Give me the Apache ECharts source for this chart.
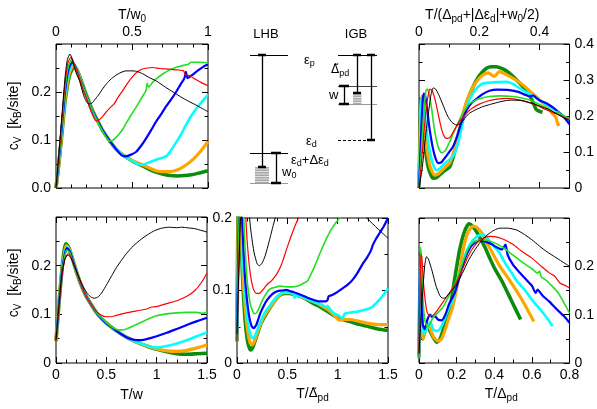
<!DOCTYPE html>
<html>
<head>
<meta charset="utf-8">
<script src="https://cdn.jsdelivr.net/npm/echarts@6/dist/echarts.min.js"></script>
<style>
html, body { margin: 0; padding: 0; background: #fff; }
#chart { width: 597px; height: 409px; }
</style>
</head>
<body>
<div id="chart"></div>
<script>
// curve order everywhere: black, red, green, blue, cyan, orange, dark green
const curveColors = ['#000000', '#ff0000', '#22e022', '#0000ff', '#00ffff', '#ffa500', '#0c8c0c']
const curveWidths = [1, 1.2, 1.6, 2.2, 2.6, 3.2, 3.6]

// top left: c_V vs T/w0
const tlBlack = [[0,0],[0.02,0.075],[0.04,0.155],[0.06,0.232],[0.075,0.268],[0.092,0.279],[0.105,0.27],[0.12,0.252],[0.137,0.236],[0.154,0.224],[0.17,0.206],[0.186,0.189],[0.2,0.18],[0.21,0.176],[0.22,0.175],[0.24,0.178],[0.26,0.186],[0.285,0.196],[0.31,0.208],[0.34,0.22],[0.373,0.23],[0.41,0.238],[0.46,0.244],[0.5,0.244],[0.53,0.243],[0.57,0.238],[0.614,0.23],[0.66,0.223],[0.72,0.21],[0.77,0.2],[0.82,0.19],[0.87,0.181],[0.92,0.173],[0.96,0.166],[1,0.159]]
const tlRed = [[0,0],[0.02,0.07],[0.04,0.147],[0.06,0.22],[0.078,0.26],[0.098,0.272],[0.112,0.265],[0.13,0.25],[0.154,0.228],[0.175,0.208],[0.197,0.19],[0.22,0.168],[0.241,0.152],[0.263,0.14],[0.28,0.141],[0.305,0.148],[0.329,0.158],[0.355,0.167],[0.384,0.176],[0.41,0.19],[0.439,0.203],[0.47,0.218],[0.504,0.232],[0.535,0.242],[0.57,0.248],[0.6,0.25],[0.636,0.251],[0.68,0.249],[0.72,0.248],[0.76,0.247],[0.8,0.246],[0.84,0.244],[0.85,0.236],[0.88,0.234],[0.92,0.226],[0.96,0.219],[1,0.213]]
const tlGreen = [[0,0],[0.02,0.066],[0.04,0.14],[0.06,0.21],[0.08,0.252],[0.103,0.267],[0.118,0.259],[0.135,0.246],[0.154,0.23],[0.175,0.213],[0.197,0.196],[0.22,0.177],[0.241,0.161],[0.274,0.138],[0.307,0.118],[0.33,0.106],[0.351,0.098],[0.37,0.099],[0.39,0.104],[0.417,0.113],[0.44,0.123],[0.46,0.134],[0.49,0.15],[0.526,0.168],[0.56,0.186],[0.592,0.203],[0.6,0.218],[0.61,0.21],[0.635,0.22],[0.658,0.227],[0.7,0.237],[0.735,0.244],[0.77,0.249],[0.82,0.254],[0.87,0.258],[0.89,0.262],[0.94,0.262],[1,0.261]]
const tlBlue = [[0,0],[0.02,0.063],[0.04,0.134],[0.06,0.202],[0.082,0.247],[0.107,0.263],[0.122,0.256],[0.138,0.244],[0.154,0.23],[0.175,0.213],[0.197,0.196],[0.22,0.177],[0.241,0.161],[0.274,0.14],[0.307,0.12],[0.351,0.099],[0.395,0.081],[0.42,0.072],[0.439,0.067],[0.46,0.066],[0.49,0.069],[0.526,0.075],[0.56,0.088],[0.592,0.103],[0.625,0.12],[0.658,0.138],[0.69,0.153],[0.72,0.168],[0.761,0.186],[0.79,0.2],[0.82,0.216],[0.845,0.229],[0.855,0.242],[0.865,0.229],[0.89,0.234],[0.93,0.244],[0.97,0.253],[1,0.258]]
const tlCyan = [[0,0],[0.02,0.06],[0.04,0.128],[0.06,0.195],[0.085,0.243],[0.112,0.26],[0.127,0.252],[0.14,0.242],[0.154,0.23],[0.175,0.213],[0.197,0.196],[0.22,0.177],[0.241,0.161],[0.274,0.14],[0.307,0.12],[0.351,0.099],[0.395,0.081],[0.439,0.069],[0.47,0.062],[0.504,0.056],[0.53,0.051],[0.548,0.049],[0.57,0.049],[0.61,0.053],[0.658,0.059],[0.7,0.063],[0.73,0.067],[0.76,0.08],[0.79,0.095],[0.82,0.11],[0.86,0.134],[0.9,0.155],[0.95,0.176],[1,0.194]]
const tlOrange = [[0,0],[0.02,0.057],[0.04,0.122],[0.06,0.188],[0.088,0.24],[0.117,0.257],[0.132,0.249],[0.145,0.24],[0.16,0.228],[0.175,0.213],[0.197,0.196],[0.22,0.177],[0.241,0.161],[0.274,0.14],[0.307,0.12],[0.351,0.099],[0.395,0.081],[0.439,0.069],[0.504,0.057],[0.57,0.048],[0.62,0.041],[0.658,0.036],[0.7,0.034],[0.74,0.034],[0.78,0.036],[0.82,0.041],[0.86,0.049],[0.9,0.059],[0.95,0.076],[1,0.097]]
const tlDkgreen = [[0,0],[0.02,0.055],[0.04,0.117],[0.06,0.182],[0.09,0.236],[0.122,0.254],[0.137,0.246],[0.15,0.237],[0.165,0.225],[0.18,0.211],[0.197,0.196],[0.22,0.177],[0.241,0.161],[0.274,0.14],[0.307,0.12],[0.351,0.099],[0.395,0.081],[0.439,0.069],[0.504,0.056],[0.57,0.046],[0.62,0.038],[0.658,0.033],[0.7,0.029],[0.75,0.026],[0.8,0.025],[0.85,0.026],[0.9,0.028],[0.95,0.032],[1,0.036]]

// top right: c_V vs T/(Δpd+|Δεd|+w0/2)
const trBlack = [[0,0],[0.01,0.05],[0.02,0.13],[0.03,0.2],[0.04,0.26],[0.047,0.278],[0.055,0.275],[0.065,0.26],[0.08,0.23],[0.095,0.2],[0.11,0.182],[0.124,0.175],[0.14,0.18],[0.155,0.197],[0.168,0.208],[0.19,0.218],[0.212,0.226],[0.24,0.233],[0.267,0.239],[0.29,0.243],[0.311,0.244],[0.34,0.243],[0.377,0.235],[0.41,0.225],[0.44,0.215],[0.47,0.2],[0.5,0.187]]
const trRed = [[0,0],[0.008,0.07],[0.016,0.15],[0.024,0.22],[0.032,0.265],[0.037,0.275],[0.044,0.27],[0.055,0.24],[0.065,0.2],[0.075,0.163],[0.086,0.14],[0.095,0.138],[0.105,0.143],[0.12,0.165],[0.135,0.186],[0.15,0.2],[0.165,0.214],[0.179,0.223],[0.2,0.233],[0.234,0.243],[0.26,0.247],[0.289,0.249],[0.32,0.247],[0.355,0.24],[0.39,0.23],[0.42,0.218],[0.45,0.208],[0.48,0.197],[0.5,0.19]]
const trGreen = [[0,0],[0.006,0.08],[0.012,0.16],[0.018,0.23],[0.023,0.27],[0.027,0.275],[0.033,0.265],[0.042,0.22],[0.05,0.17],[0.06,0.125],[0.07,0.102],[0.077,0.098],[0.088,0.105],[0.1,0.125],[0.112,0.148],[0.124,0.17],[0.14,0.2],[0.155,0.22],[0.165,0.232],[0.179,0.24],[0.2,0.248],[0.234,0.254],[0.27,0.256],[0.311,0.254],[0.34,0.25],[0.377,0.242],[0.41,0.228],[0.44,0.213],[0.454,0.207],[0.46,0.213],[0.47,0.206],[0.49,0.196],[0.5,0.193]]
const trBlue = [[0,0],[0.004,0.08],[0.008,0.17],[0.012,0.24],[0.016,0.262],[0.02,0.258],[0.027,0.22],[0.035,0.165],[0.045,0.115],[0.055,0.082],[0.064,0.069],[0.075,0.072],[0.09,0.088],[0.105,0.105],[0.113,0.115],[0.125,0.14],[0.14,0.18],[0.157,0.215],[0.175,0.237],[0.19,0.247],[0.21,0.26],[0.234,0.27],[0.26,0.273],[0.3,0.272],[0.33,0.267],[0.366,0.255],[0.38,0.257],[0.39,0.25],[0.4,0.244],[0.43,0.232],[0.454,0.218],[0.48,0.198],[0.5,0.177]]
const trCyan = [[0,0],[0.003,0.1],[0.006,0.2],[0.009,0.255],[0.013,0.255],[0.02,0.2],[0.03,0.13],[0.04,0.085],[0.05,0.058],[0.058,0.05],[0.07,0.055],[0.085,0.068],[0.1,0.078],[0.113,0.088],[0.125,0.11],[0.14,0.16],[0.152,0.207],[0.165,0.24],[0.179,0.263],[0.195,0.28],[0.212,0.29],[0.24,0.293],[0.26,0.294],[0.289,0.295],[0.31,0.29],[0.344,0.272],[0.37,0.26],[0.4,0.244],[0.43,0.228],[0.46,0.212],[0.476,0.203],[0.49,0.195],[0.5,0.189]]
const trOrange = [[0,0],[0.003,0.12],[0.006,0.22],[0.009,0.255],[0.012,0.24],[0.018,0.17],[0.026,0.11],[0.035,0.065],[0.045,0.043],[0.053,0.036],[0.065,0.04],[0.08,0.052],[0.095,0.064],[0.102,0.069],[0.115,0.1],[0.13,0.15],[0.146,0.207],[0.16,0.245],[0.179,0.28],[0.195,0.3],[0.212,0.314],[0.23,0.32],[0.25,0.31],[0.267,0.323],[0.29,0.315],[0.322,0.3],[0.35,0.283],[0.388,0.254],[0.42,0.23],[0.443,0.207],[0.455,0.195],[0.46,0.18],[0.465,0.172]]
const trDkgreen = [[0,0],[0.003,0.13],[0.006,0.24],[0.009,0.25],[0.013,0.2],[0.02,0.12],[0.03,0.06],[0.04,0.035],[0.047,0.027],[0.06,0.03],[0.08,0.045],[0.102,0.059],[0.115,0.09],[0.13,0.14],[0.146,0.198],[0.16,0.24],[0.179,0.28],[0.2,0.312],[0.223,0.332],[0.24,0.337],[0.256,0.337],[0.28,0.33],[0.3,0.319],[0.33,0.295],[0.355,0.272],[0.375,0.245],[0.388,0.22],[0.395,0.215],[0.41,0.21]]

// bottom left: c_V vs T/w
const blBlack = [[0,0.048],[0.03,0.12],[0.06,0.185],[0.09,0.215],[0.12,0.222],[0.15,0.215],[0.19,0.196],[0.23,0.175],[0.27,0.157],[0.31,0.143],[0.35,0.135],[0.38,0.133],[0.42,0.136],[0.46,0.146],[0.5,0.16],[0.55,0.178],[0.6,0.196],[0.65,0.211],[0.7,0.225],[0.77,0.241],[0.85,0.255],[0.92,0.265],[0.98,0.272],[1.05,0.277],[1.12,0.279],[1.2,0.278],[1.25,0.279],[1.3,0.278],[1.38,0.276],[1.45,0.272],[1.5,0.269]]
const blRed = [[0,0.045],[0.03,0.115],[0.06,0.18],[0.09,0.214],[0.12,0.225],[0.15,0.218],[0.19,0.195],[0.23,0.172],[0.27,0.15],[0.31,0.133],[0.35,0.12],[0.4,0.106],[0.45,0.098],[0.5,0.095],[0.55,0.095],[0.6,0.098],[0.7,0.103],[0.8,0.107],[0.9,0.111],[0.95,0.115],[1.0,0.116],[1.1,0.122],[1.2,0.128],[1.3,0.137],[1.38,0.149],[1.45,0.167],[1.5,0.185]]
const blGreen = [[0,0.045],[0.03,0.118],[0.06,0.185],[0.09,0.222],[0.11,0.232],[0.14,0.225],[0.18,0.2],[0.22,0.176],[0.26,0.155],[0.3,0.137],[0.35,0.12],[0.4,0.104],[0.45,0.093],[0.5,0.083],[0.55,0.075],[0.6,0.069],[0.65,0.068],[0.7,0.07],[0.8,0.079],[0.9,0.089],[1.0,0.097],[1.1,0.101],[1.2,0.103],[1.3,0.104],[1.4,0.104],[1.45,0.102],[1.5,0.105]]
const blBlue = [[0,0.045],[0.03,0.12],[0.06,0.188],[0.09,0.226],[0.11,0.236],[0.14,0.228],[0.18,0.202],[0.22,0.177],[0.26,0.155],[0.3,0.137],[0.35,0.12],[0.4,0.104],[0.45,0.092],[0.5,0.082],[0.55,0.074],[0.6,0.066],[0.65,0.059],[0.7,0.053],[0.75,0.049],[0.8,0.047],[0.85,0.047],[0.9,0.049],[1.0,0.055],[1.1,0.062],[1.2,0.07],[1.3,0.078],[1.4,0.086],[1.5,0.093]]
const blCyan = [[0,0.045],[0.03,0.121],[0.06,0.19],[0.09,0.229],[0.11,0.238],[0.14,0.229],[0.18,0.203],[0.22,0.177],[0.26,0.155],[0.3,0.137],[0.35,0.12],[0.4,0.104],[0.45,0.092],[0.5,0.082],[0.55,0.074],[0.6,0.066],[0.7,0.053],[0.8,0.043],[0.9,0.036],[0.95,0.033],[1.0,0.032],[1.05,0.033],[1.1,0.035],[1.2,0.04],[1.3,0.047],[1.4,0.055],[1.5,0.063]]
const blOrange = [[0,0.045],[0.03,0.122],[0.06,0.192],[0.09,0.232],[0.105,0.241],[0.14,0.23],[0.18,0.203],[0.22,0.177],[0.26,0.155],[0.3,0.137],[0.35,0.12],[0.4,0.104],[0.45,0.092],[0.5,0.082],[0.6,0.066],[0.7,0.053],[0.8,0.043],[0.9,0.035],[1.0,0.029],[1.1,0.025],[1.2,0.024],[1.3,0.026],[1.4,0.031],[1.5,0.037]]
const blDkgreen = [[0,0.045],[0.03,0.124],[0.06,0.195],[0.085,0.236],[0.1,0.245],[0.13,0.236],[0.17,0.21],[0.21,0.183],[0.25,0.16],[0.3,0.137],[0.35,0.12],[0.4,0.104],[0.45,0.092],[0.5,0.082],[0.6,0.066],[0.7,0.053],[0.8,0.043],[0.9,0.035],[1.0,0.028],[1.1,0.023],[1.2,0.019],[1.3,0.018],[1.4,0.019],[1.5,0.02]]

// bottom middle: c_V vs T/Δ~pd
const bmBlack = [[0,0.04],[0.03,0.18],[0.05,0.25],[0.08,0.26],[0.11,0.22],[0.14,0.18],[0.17,0.152],[0.2,0.137],[0.22,0.134],[0.25,0.138],[0.28,0.148],[0.32,0.168],[0.36,0.19],[0.4,0.21],[0.5,0.255],[0.65,0.279],[0.85,0.269],[1.0,0.25],[1.15,0.225],[1.29,0.2],[1.4,0.185],[1.5,0.172]]
const bmRed = [[0,0.03],[0.02,0.15],[0.04,0.24],[0.06,0.26],[0.08,0.22],[0.1,0.17],[0.13,0.125],[0.16,0.103],[0.19,0.096],[0.22,0.096],[0.25,0.1],[0.28,0.105],[0.31,0.11],[0.34,0.113],[0.37,0.118],[0.4,0.124],[0.43,0.132],[0.46,0.143],[0.49,0.156],[0.53,0.172],[0.57,0.187],[0.61,0.2],[0.7,0.23]]
const bmGreen = [[0,0.03],[0.015,0.15],[0.03,0.24],[0.045,0.255],[0.06,0.22],[0.08,0.16],[0.1,0.115],[0.13,0.083],[0.16,0.07],[0.18,0.068],[0.21,0.073],[0.25,0.086],[0.3,0.098],[0.33,0.102],[0.37,0.104],[0.43,0.106],[0.5,0.105],[0.56,0.105],[0.62,0.107],[0.66,0.11],[0.7,0.113],[0.74,0.124],[0.77,0.133],[0.82,0.15],[0.86,0.163],[0.89,0.172],[0.94,0.185],[1.0,0.197],[1.02,0.2],[1.1,0.22]]
const bmBlue = [[0,0.03],[0.012,0.15],[0.025,0.24],[0.035,0.25],[0.05,0.2],[0.07,0.14],[0.09,0.1],[0.12,0.065],[0.145,0.051],[0.165,0.048],[0.19,0.052],[0.23,0.068],[0.27,0.08],[0.3,0.087],[0.35,0.095],[0.4,0.099],[0.45,0.1],[0.49,0.101],[0.53,0.099],[0.56,0.098],[0.6,0.096],[0.65,0.093],[0.7,0.09],[0.76,0.087],[0.82,0.085],[0.88,0.085],[0.9,0.087],[0.91,0.092],[0.95,0.094],[1.0,0.098],[1.05,0.103],[1.1,0.108],[1.15,0.115],[1.2,0.125],[1.25,0.137],[1.29,0.145],[1.33,0.155],[1.35,0.163],[1.38,0.171],[1.42,0.18],[1.46,0.189],[1.5,0.2]]
const bmCyan = [[0,0.03],[0.01,0.15],[0.02,0.24],[0.03,0.25],[0.045,0.2],[0.065,0.13],[0.09,0.08],[0.115,0.05],[0.14,0.037],[0.158,0.034],[0.18,0.038],[0.22,0.052],[0.27,0.068],[0.33,0.08],[0.4,0.092],[0.46,0.097],[0.52,0.097],[0.56,0.095],[0.57,0.09],[0.59,0.094],[0.65,0.091],[0.72,0.087],[0.79,0.083],[0.85,0.08],[0.88,0.077],[0.9,0.079],[0.93,0.073],[0.97,0.068],[1.0,0.066],[1.05,0.062],[1.07,0.068],[1.1,0.069],[1.2,0.071],[1.29,0.074],[1.35,0.078],[1.4,0.085],[1.45,0.093],[1.5,0.103]]
const bmOrange = [[0,0.03],[0.008,0.15],[0.016,0.24],[0.025,0.25],[0.04,0.2],[0.06,0.12],[0.085,0.07],[0.11,0.04],[0.13,0.028],[0.148,0.025],[0.17,0.029],[0.21,0.045],[0.26,0.062],[0.33,0.077],[0.4,0.09],[0.46,0.097],[0.52,0.097],[0.58,0.095],[0.63,0.092],[0.66,0.09],[0.7,0.088],[0.75,0.085],[0.79,0.083],[0.85,0.078],[0.9,0.074],[0.95,0.068],[0.99,0.062],[1.02,0.059],[1.05,0.06],[1.12,0.06],[1.2,0.058],[1.29,0.055],[1.4,0.053],[1.5,0.053]]
const bmDkgreen = [[0,0.03],[0.006,0.15],[0.013,0.24],[0.02,0.25],[0.035,0.2],[0.055,0.12],[0.08,0.06],[0.105,0.03],[0.125,0.02],[0.138,0.018],[0.155,0.021],[0.19,0.035],[0.24,0.055],[0.3,0.07],[0.36,0.083],[0.42,0.093],[0.47,0.096],[0.52,0.096],[0.58,0.094],[0.63,0.092],[0.7,0.087],[0.76,0.082],[0.82,0.078],[0.9,0.071],[0.97,0.065],[1.05,0.06],[1.15,0.056],[1.22,0.053],[1.29,0.051],[1.4,0.047],[1.5,0.045]]

// bottom right: c_V vs T/Δpd
const brBlack = [[0,0.02],[0.015,0.12],[0.03,0.2],[0.04,0.22],[0.05,0.215],[0.07,0.19],[0.09,0.16],[0.11,0.14],[0.125,0.134],[0.14,0.135],[0.17,0.148],[0.2,0.163],[0.23,0.185],[0.26,0.21],[0.29,0.23],[0.33,0.252],[0.36,0.264],[0.4,0.275],[0.43,0.279],[0.47,0.279],[0.52,0.275],[0.56,0.266],[0.6,0.255],[0.64,0.242],[0.68,0.23],[0.72,0.22],[0.76,0.21],[0.8,0.2]]
const brRed = [[0,0.02],[0.005,0.15],[0.01,0.225],[0.015,0.22],[0.025,0.16],[0.04,0.11],[0.05,0.1],[0.07,0.098],[0.09,0.105],[0.11,0.116],[0.14,0.133],[0.17,0.15],[0.2,0.168],[0.23,0.193],[0.26,0.22],[0.29,0.24],[0.32,0.253],[0.35,0.26],[0.38,0.262],[0.42,0.26],[0.46,0.254],[0.5,0.245],[0.55,0.23],[0.6,0.217],[0.65,0.2],[0.69,0.187],[0.72,0.18],[0.75,0.165],[0.78,0.16],[0.8,0.155]]
const brGreen = [[0,0.01],[0.004,0.16],[0.008,0.24],[0.012,0.22],[0.02,0.14],[0.03,0.09],[0.045,0.075],[0.06,0.082],[0.075,0.095],[0.09,0.1],[0.11,0.108],[0.13,0.117],[0.16,0.14],[0.2,0.172],[0.23,0.205],[0.26,0.235],[0.29,0.25],[0.33,0.255],[0.37,0.253],[0.41,0.247],[0.45,0.238],[0.49,0.226],[0.53,0.214],[0.57,0.203],[0.6,0.195],[0.63,0.186],[0.64,0.19],[0.65,0.178],[0.68,0.17],[0.71,0.158],[0.74,0.145],[0.77,0.125],[0.8,0.103]]
const brBlue = [[0,0.01],[0.003,0.15],[0.006,0.23],[0.01,0.2],[0.015,0.13],[0.02,0.08],[0.03,0.07],[0.045,0.09],[0.06,0.1],[0.07,0.095],[0.085,0.097],[0.1,0.09],[0.12,0.088],[0.14,0.1],[0.16,0.122],[0.19,0.145],[0.22,0.185],[0.25,0.221],[0.28,0.243],[0.32,0.254],[0.36,0.25],[0.39,0.245],[0.41,0.24],[0.44,0.235],[0.46,0.245],[0.47,0.225],[0.5,0.203],[0.54,0.185],[0.585,0.166],[0.6,0.16],[0.62,0.145],[0.63,0.152],[0.66,0.138],[0.69,0.128],[0.73,0.112],[0.77,0.097],[0.8,0.083]]
const brCyan = [[0,0.01],[0.003,0.15],[0.006,0.22],[0.01,0.17],[0.015,0.1],[0.025,0.06],[0.04,0.07],[0.06,0.085],[0.075,0.07],[0.093,0.066],[0.11,0.07],[0.13,0.085],[0.16,0.115],[0.18,0.131],[0.21,0.175],[0.243,0.221],[0.27,0.245],[0.3,0.259],[0.33,0.265],[0.357,0.262],[0.38,0.248],[0.4,0.24],[0.427,0.228],[0.46,0.205],[0.49,0.188],[0.515,0.172],[0.56,0.152],[0.6,0.131],[0.65,0.108],[0.69,0.088],[0.71,0.076]]
const brOrange = [[0,0.01],[0.003,0.12],[0.006,0.2],[0.01,0.15],[0.015,0.08],[0.02,0.05],[0.03,0.06],[0.045,0.08],[0.06,0.07],[0.08,0.052],[0.102,0.045],[0.12,0.05],[0.14,0.07],[0.16,0.095],[0.18,0.117],[0.21,0.175],[0.234,0.234],[0.26,0.27],[0.287,0.283],[0.31,0.28],[0.34,0.266],[0.36,0.25],[0.39,0.228],[0.43,0.2],[0.48,0.172],[0.52,0.148],[0.56,0.122],[0.61,0.086]]
const brDkgreen = [[0,0.015],[0.003,0.1],[0.006,0.17],[0.01,0.12],[0.015,0.07],[0.02,0.05],[0.03,0.065],[0.045,0.08],[0.06,0.065],[0.08,0.05],[0.095,0.043],[0.11,0.048],[0.13,0.07],[0.15,0.095],[0.17,0.125],[0.19,0.175],[0.216,0.234],[0.24,0.27],[0.265,0.288],[0.28,0.285],[0.3,0.275],[0.32,0.262],[0.35,0.24],[0.375,0.218],[0.4,0.197],[0.445,0.166],[0.49,0.13],[0.54,0.09]]

// level scheme (energy units, arbitrary)
const eP = 135, eShift = 37, eD = 50, lhbBottom = 7, lhbFillTop = 23
const igbHigh = 104, igbLow = 86, igbFillTop = 97
const lhbSpan = [14, 52], igbSpan = [102, 141]
const lhbStem = 26, igbStemA = 121, igbStemB = 135, w0Bar = 40, wBar = 108
const lhbFill = [19, 33], igbFill = [117, 126]

const FONT = '"Liberation Sans", Arial, Helvetica, sans-serif'
const rich = {
  a: { fontFamily: FONT, fontSize: 14, lineHeight: 18, color: '#000' },
  d: { fontFamily: '"DejaVu Sans"', fontSize: 13, lineHeight: 18, color: '#000' },
  s: { fontFamily: FONT, fontSize: 10, lineHeight: 10, verticalAlign: 'bottom', color: '#000' }
}
const smallRich = {
  a: { fontFamily: FONT, fontSize: 13, lineHeight: 17, color: '#000' },
  d: { fontFamily: '"DejaVu Sans"', fontSize: 12, lineHeight: 17, color: '#000' },
  s: { fontFamily: FONT, fontSize: 9, lineHeight: 9, verticalAlign: 'bottom', color: '#000' }
}

function axis (grid, pos, min, max, step, minorSplit, showLabel, fmt) {
  return {
    type: 'value',
    gridIndex: grid,
    position: pos,
    min: min,
    max: max,
    interval: step,
    axisLine: { show: false, onZero: false },
    axisTick: { show: true, inside: true, length: 6, lineStyle: { color: '#000', width: 1 } },
    minorTick: { show: true, splitNumber: minorSplit, length: 3.5, lineStyle: { color: '#000', width: 1 } },
    splitLine: { show: false },
    minorSplitLine: { show: false },
    axisLabel: { show: showLabel, margin: 5, fontFamily: FONT, fontSize: 14, color: '#000', formatter: fmt }
  }
}
function named (ax, name, gap, pad) {
  ax.name = name
  ax.nameLocation = 'middle'
  ax.nameGap = gap
  ax.nameTextStyle = { rich: rich, padding: pad || 0 }
  return ax
}
const hideAbove = lim => v => (v > lim ? '' : String(+v.toFixed(2)))
const oneDec = v => (v > 0.29 ? '' : v.toFixed(1))
const cvName = '{a|c}{s|V}{a|  [k}{s|B}{a|/site]}'

const grids = [
  { left: 56, top: 44, width: 152, height: 144 },
  { left: 236, top: 30, width: 154, height: 160, show: false },
  { left: 419, top: 44, width: 152, height: 144 },
  { left: 56, top: 217, width: 151, height: 146 },
  { left: 237, top: 218, width: 151, height: 145 },
  { left: 419, top: 218, width: 152, height: 145 }
].map(g => Object.assign({ show: true, borderColor: '#000', borderWidth: 1, backgroundColor: 'transparent', containLabel: false }, g))

const cvLeftTop = named(axis(0, 'left', 0, 0.3, 0.1, 2, true, oneDec), cvName, 33)
const cvLeftBottom = named(axis(3, 'left', 0, 0.3, 0.1, 2, true, hideAbove(0.29)), cvName, 33, [0, 0, 0, 14])
cvLeftTop.nameRotate = 90
cvLeftBottom.nameRotate = 90

const xAxes = [
  axis(0, 'bottom', 0, 1, 0.5, 5, false),
  named(axis(0, 'top', 0, 1, 0.5, 5, true), '{a|T/w}{s|0}', 14),
  { type: 'value', gridIndex: 1, min: 0, max: 154, show: false },
  axis(2, 'bottom', 0, 0.5, 0.2, 2, false),
  named(axis(2, 'top', 0, 0.5, 0.2, 2, true, hideAbove(0.45)), '{a|T/(Δ}{s|pd}{a|+|Δε}{s|d}{a||+w}{s|0}{a|/2)}', 20, [0, 24, 0, 0]),
  named(axis(3, 'bottom', 0, 1.5, 0.5, 5, true), '{a|T/w}', 23),
  axis(3, 'top', 0, 1.5, 0.5, 5, false),
  named(axis(4, 'bottom', 0, 1.5, 0.5, 5, true), '{a|T/}{d|Δ\u0303}{s|pd}', 22),
  axis(4, 'top', 0, 1.5, 0.5, 5, false),
  named(axis(5, 'bottom', 0, 0.8, 0.2, 2, true), '{a|T/Δ}{s|pd}', 22, [0, 0, 0, 14]),
  axis(5, 'top', 0, 0.8, 0.2, 2, false)
]
const yAxes = [
  cvLeftTop,
  axis(0, 'right', 0, 0.3, 0.1, 2, false),
  { type: 'value', gridIndex: 1, min: 0, max: 160, show: false },
  axis(2, 'left', 0, 0.4, 0.1, 2, false),
  axis(2, 'right', 0, 0.4, 0.1, 2, true),
  cvLeftBottom,
  axis(3, 'right', 0, 0.3, 0.1, 2, false),
  axis(4, 'left', 0, 0.2, 0.1, 2, true),
  axis(4, 'right', 0, 0.2, 0.1, 2, false),
  axis(5, 'left', 0, 0.3, 0.1, 2, false),
  axis(5, 'right', 0, 0.3, 0.1, 2, true, hideAbove(0.29))
]

const panels = [
  { x: 0, y: 0, curves: [tlBlack, tlRed, tlGreen, tlBlue, tlCyan, tlOrange, tlDkgreen] },
  { x: 3, y: 3, curves: [trBlack, trRed, trGreen, trBlue, trCyan, trOrange, trDkgreen] },
  { x: 5, y: 5, curves: [blBlack, blRed, blGreen, blBlue, blCyan, blOrange, blDkgreen] },
  { x: 7, y: 7, curves: [bmBlack, bmRed, bmGreen, bmBlue, bmCyan, bmOrange, bmDkgreen] },
  { x: 9, y: 9, curves: [brBlack, brRed, brGreen, brBlue, brCyan, brOrange, brDkgreen] }
]

const series = []
panels.forEach(p => {
  for (let i = p.curves.length - 1; i >= 0; i--) {
    series.push({
      type: 'line',
      xAxisIndex: p.x,
      yAxisIndex: p.y,
      data: p.curves[i],
      showSymbol: false,
      symbol: 'none',
      smooth: 0.2,
      clip: true,
      silent: true,
      lineStyle: { color: curveColors[i], width: curveWidths[i] }
    })
  }
})

// level scheme: segments
const seg = (x1, y1, x2, y2) => ({ coords: [[x1, y1], [x2, y2]] })
const capsFor = (x, ys, half) => ys.map(y => seg(x - half, y, x + half, y))
function schemeLines (data, color, width, type) {
  return {
    type: 'lines',
    coordinateSystem: 'cartesian2d',
    xAxisIndex: 2,
    yAxisIndex: 2,
    silent: true,
    data: data,
    lineStyle: { color: color, width: width, type: type || 'solid', opacity: 1 }
  }
}
series.push({
  type: 'custom',
  coordinateSystem: 'cartesian2d',
  xAxisIndex: 2,
  yAxisIndex: 2,
  silent: true,
  data: [[lhbFill[0], lhbFill[1], lhbBottom, lhbFillTop], [igbFill[0], igbFill[1], igbLow, igbFillTop]],
  encode: { x: [0, 1], y: [2, 3] },
  renderItem: function (params, api) {
    const a = api.coord([api.value(0), api.value(3)])
    const b = api.coord([api.value(1), api.value(2)])
    const kids = [{ type: 'rect', shape: { x: a[0], y: a[1], width: b[0] - a[0], height: b[1] - a[1] }, style: { fill: '#e2e2e2' } }]
    for (let x = a[0] + 1; x < b[0]; x += 2) {
      kids.push({ type: 'line', shape: { x1: x, y1: a[1], x2: x, y2: b[1] }, style: { stroke: '#6e6e6e', lineWidth: 1, lineDash: [1.5, 1] } })
    }
    return { type: 'group', children: kids }
  }
})
series.push(schemeLines([
  seg(lhbSpan[0], eP, lhbSpan[1], eP),
  seg(igbSpan[0], eP, igbSpan[1], eP),
  seg(lhbSpan[0], eShift, lhbSpan[1], eShift)
], '#000', 1))
series.push(schemeLines([seg(igbSpan[0], igbHigh, igbSpan[1], igbHigh)], '#444', 1))
series.push(schemeLines([
  seg(lhbSpan[0], lhbBottom, lhbSpan[1], lhbBottom),
  seg(igbSpan[0], igbLow, igbSpan[1], igbLow)
], '#9a9a9a', 1.2))
series.push(schemeLines([seg(igbSpan[0], eD, igbStemB - 4, eD)], '#000', 1, [3, 2]))
series.push(schemeLines([
  seg(lhbStem, eP, lhbStem, lhbFillTop),
  seg(igbStemA, eP, igbStemA, igbFillTop),
  seg(igbStemB, eP, igbStemB, eD),
  seg(w0Bar, eShift, w0Bar, lhbBottom),
  seg(wBar, igbHigh, wBar, igbLow)
], '#000', 1.3))
series.push(schemeLines([].concat(
  capsFor(lhbStem, [eP, lhbFillTop], 4),
  capsFor(igbStemA, [eP, igbFillTop], 4),
  capsFor(igbStemB, [eP, eD], 4),
  capsFor(w0Bar, [eShift, lhbBottom], 5),
  capsFor(wBar, [igbHigh, igbLow], 5)
), '#000', 2.4))

const label = (x, y, text, align) => ({
  type: 'text',
  x: x,
  y: y,
  silent: true,
  style: { text: text, rich: smallRich, font: '13px ' + FONT, fill: '#000', align: align || 'left', verticalAlign: 'middle' }
})

const chart = echarts.init(document.getElementById('chart'), null, { renderer: 'canvas' })
chart.setOption({
  animation: false,
  backgroundColor: '#fff',
  textStyle: { fontFamily: FONT },
  grid: grids,
  xAxis: xAxes,
  yAxis: yAxes,
  series: series,
  graphic: [
    label(266, 34, '{a|LHB}', 'center'),
    label(356, 34, '{a|IGB}', 'center'),
    label(304, 60, '{a|ε}{s|p}'),
    label(331, 70, '{d|Δ\u0303}{s|pd}'),
    label(329, 95, '{a|w}'),
    label(306, 141, '{a|ε}{s|d}'),
    label(291, 160, '{a|ε}{s|d}{a|+Δε}{s|d}'),
    label(282, 172, '{a|w}{s|0}')
  ]
})
window.onresize = function () {
  chart.resize()
}
</script>
</body>
</html>
